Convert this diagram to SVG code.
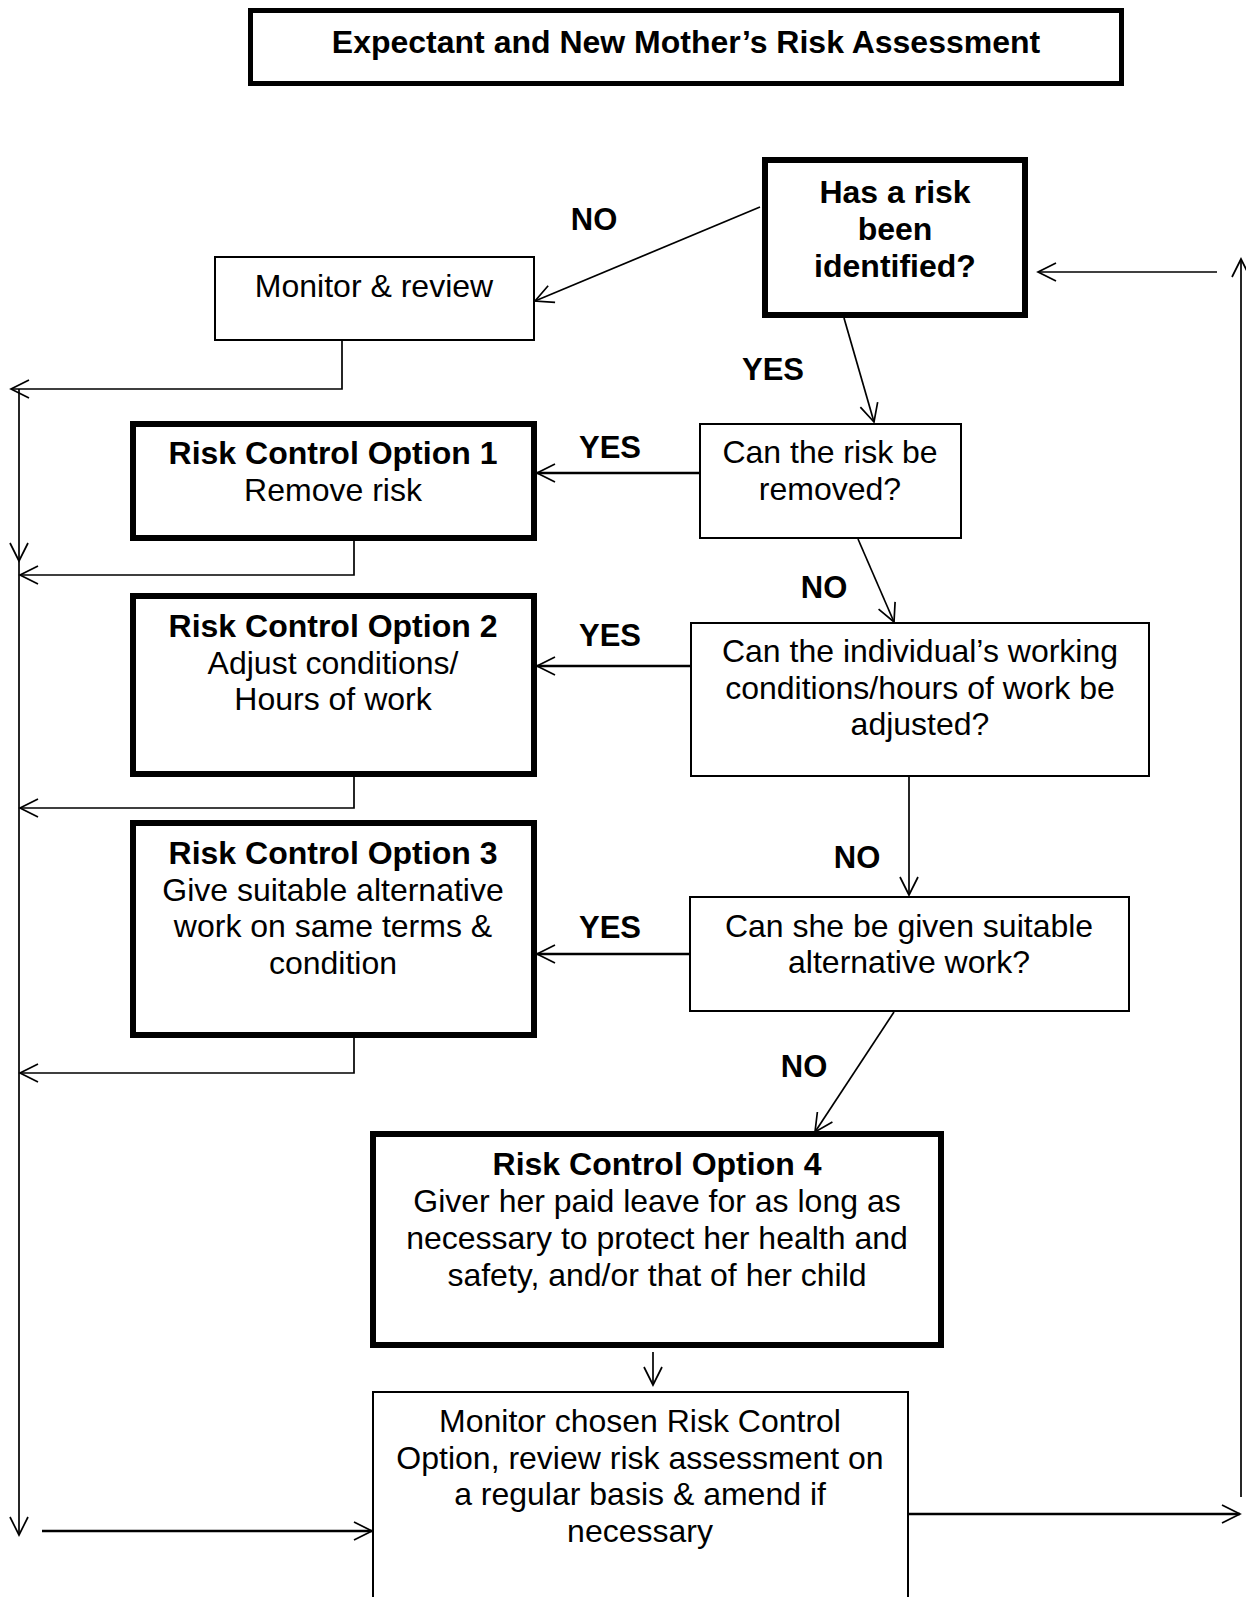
<svg xmlns="http://www.w3.org/2000/svg" width="1246" height="1597" viewBox="0 0 1246 1597">
<defs>
<style>
.box{fill:#fff;stroke:#000;stroke-width:2}
.thick{fill:#fff;stroke:#000;stroke-width:6}
.t{font-family:"Liberation Sans",Arial,sans-serif;font-size:32px;fill:#000;text-anchor:middle}
.b{font-weight:bold}
.lbl{font-family:"Liberation Sans",Arial,sans-serif;font-size:31px;font-weight:bold;fill:#000;text-anchor:middle}
.c{fill:none;stroke:#000;stroke-width:1.7}
.cw{fill:none;stroke:#000;stroke-width:2.4}
</style>
<marker id="arr" markerUnits="userSpaceOnUse" markerWidth="24" markerHeight="24" viewBox="0 0 24 24" refX="20" refY="10" orient="auto">
<path d="M2,1 L20,10 L2,19" fill="none" stroke="#000" stroke-width="1.7"/>
</marker>
</defs>
<rect width="1246" height="1597" fill="#fff"/>

<g id="title">
<rect x="250.5" y="10.5" width="871" height="73" fill="#fff" stroke="#000" stroke-width="5"/>
<text class="t b" x="686" y="53">Expectant and New Mother’s Risk Assessment</text>
</g>

<g id="connectors">
<line class="c" x1="760" y1="207" x2="535" y2="301" marker-end="url(#arr)"/>
<line class="c" x1="844" y1="318" x2="874" y2="422" marker-end="url(#arr)"/>
<line class="cw" x1="699" y1="473" x2="537" y2="473" marker-end="url(#arr)"/>
<line class="c" x1="858" y1="539" x2="894" y2="622" marker-end="url(#arr)"/>
<line class="cw" x1="690" y1="666" x2="537" y2="666" marker-end="url(#arr)"/>
<line class="c" x1="909" y1="777" x2="909" y2="895" marker-end="url(#arr)"/>
<line class="cw" x1="689" y1="954" x2="537" y2="954" marker-end="url(#arr)"/>
<line class="c" x1="894" y1="1012" x2="815" y2="1132" marker-end="url(#arr)"/>
<line class="c" x1="653" y1="1352" x2="653" y2="1385" marker-end="url(#arr)"/>
<polyline class="c" points="342,340 342,389 11,389" marker-end="url(#arr)"/>
<polyline class="c" points="354,541 354,575 20,575" marker-end="url(#arr)"/>
<polyline class="c" points="354,777 354,808 20,808" marker-end="url(#arr)"/>
<polyline class="c" points="354,1038 354,1073 20,1073" marker-end="url(#arr)"/>
<line class="c" x1="19" y1="389" x2="19" y2="561" marker-end="url(#arr)"/>
<line class="c" x1="19" y1="561" x2="19" y2="1535" marker-end="url(#arr)"/>
<line class="cw" x1="42" y1="1531" x2="372" y2="1531" marker-end="url(#arr)"/>
<line class="cw" x1="909" y1="1514" x2="1240" y2="1514" marker-end="url(#arr)"/>
<line class="c" x1="1241" y1="1497" x2="1241" y2="259" marker-end="url(#arr)"/>
<line class="c" x1="1217" y1="272" x2="1038" y2="272" marker-end="url(#arr)"/>
</g>

<g id="labels">
<text class="lbl" x="594" y="230">NO</text>
<text class="lbl" x="773" y="380">YES</text>
<text class="lbl" x="610" y="458">YES</text>
<text class="lbl" x="824" y="598">NO</text>
<text class="lbl" x="610" y="646">YES</text>
<text class="lbl" x="857" y="868">NO</text>
<text class="lbl" x="610" y="938">YES</text>
<text class="lbl" x="804" y="1077">NO</text>
</g>

<g id="q0">
<rect class="thick" x="765" y="160" width="260" height="155"/>
<text class="t b" x="895" y="203">Has a risk</text>
<text class="t b" x="895" y="240">been</text>
<text class="t b" x="895" y="277">identified?</text>
</g>

<g id="monitor">
<rect class="box" x="215" y="257" width="319" height="83"/>
<text class="t" x="374" y="297">Monitor &amp; review</text>
</g>

<g id="opt1">
<rect class="thick" x="133" y="424" width="401" height="114"/>
<text class="t b" x="333" y="464">Risk Control Option 1</text>
<text class="t" x="333" y="501">Remove risk</text>
</g>

<g id="q1">
<rect class="box" x="700" y="424" width="261" height="114"/>
<text class="t" x="830" y="463">Can the risk be</text>
<text class="t" x="830" y="500">removed?</text>
</g>

<g id="opt2">
<rect class="thick" x="133" y="596" width="401" height="178"/>
<text class="t b" x="333" y="637">Risk Control Option 2</text>
<text class="t" x="333" y="674">Adjust conditions/</text>
<text class="t" x="333" y="710">Hours of work</text>
</g>

<g id="q2">
<rect class="box" x="691" y="623" width="458" height="153"/>
<text class="t" x="920" y="662">Can the individual’s working</text>
<text class="t" x="920" y="699">conditions/hours of work be</text>
<text class="t" x="920" y="735">adjusted?</text>
</g>

<g id="opt3">
<rect class="thick" x="133" y="823" width="401" height="212"/>
<text class="t b" x="333" y="864">Risk Control Option 3</text>
<text class="t" x="333" y="901">Give suitable alternative</text>
<text class="t" x="333" y="937">work on same terms &amp;</text>
<text class="t" x="333" y="974">condition</text>
</g>

<g id="q3">
<rect class="box" x="690" y="897" width="439" height="114"/>
<text class="t" x="909" y="937">Can she be given suitable</text>
<text class="t" x="909" y="973">alternative work?</text>
</g>

<g id="opt4">
<rect class="thick" x="373" y="1134" width="568" height="211"/>
<text class="t b" x="657" y="1175">Risk Control Option 4</text>
<text class="t" x="657" y="1212">Giver her paid leave for as long as</text>
<text class="t" x="657" y="1249">necessary to protect her health and</text>
<text class="t" x="657" y="1286">safety, and/or that of her child</text>
</g>

<g id="final">
<rect class="box" x="373" y="1392" width="535" height="230"/>
<text class="t" x="640" y="1432">Monitor chosen Risk Control</text>
<text class="t" x="640" y="1469">Option, review risk assessment on</text>
<text class="t" x="640" y="1505">a regular basis &amp; amend if</text>
<text class="t" x="640" y="1542">necessary</text>
</g>
</svg>
